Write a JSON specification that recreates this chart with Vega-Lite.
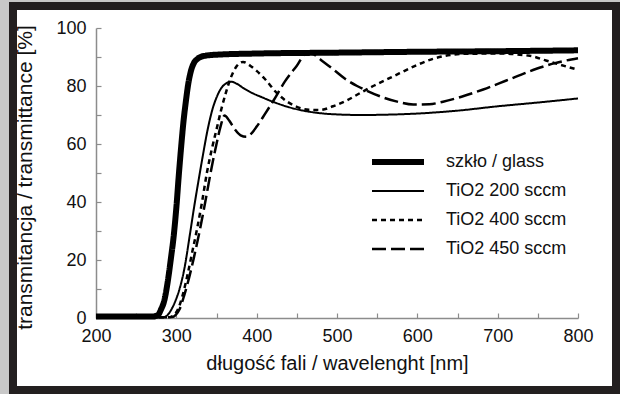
{
  "$schema": "https://vega.github.io/schema/vega-lite/v6.json",
  "width": 603,
  "height": 384,
  "autosize": "none",
  "padding": {"left": 13, "top": 6, "right": 4, "bottom": 4},
  "background": "#c8c8c8",
  "config": {
    "view": {"fill": "white", "stroke": "#231f20", "strokeWidth": 8},
    "font": "Liberation Sans"
  },
  "data": {
    "values": [
      {"series": "szkło / glass", "wl": 200, "t": 0.5}, {"series": "szkło / glass", "wl": 270, "t": 0.5}, {"series": "szkło / glass", "wl": 277, "t": 1}, {"series": "szkło / glass", "wl": 281, "t": 3}, {"series": "szkło / glass", "wl": 285, "t": 6}, {"series": "szkło / glass", "wl": 289, "t": 12}, {"series": "szkło / glass", "wl": 293, "t": 20}, {"series": "szkło / glass", "wl": 297, "t": 29}, {"series": "szkło / glass", "wl": 300, "t": 38}, {"series": "szkło / glass", "wl": 303, "t": 49}, {"series": "szkło / glass", "wl": 306, "t": 59}, {"series": "szkło / glass", "wl": 309, "t": 68}, {"series": "szkło / glass", "wl": 312, "t": 75}, {"series": "szkło / glass", "wl": 315, "t": 81}, {"series": "szkło / glass", "wl": 318, "t": 85}, {"series": "szkło / glass", "wl": 322, "t": 88}, {"series": "szkło / glass", "wl": 327, "t": 89.5}, {"series": "szkło / glass", "wl": 335, "t": 90.4}, {"series": "szkło / glass", "wl": 350, "t": 90.8}, {"series": "szkło / glass", "wl": 400, "t": 91.2}, {"series": "szkło / glass", "wl": 500, "t": 91.5}, {"series": "szkło / glass", "wl": 600, "t": 91.8}, {"series": "szkło / glass", "wl": 700, "t": 92}, {"series": "szkło / glass", "wl": 800, "t": 92.3},
      {"series": "TiO2 200 sccm", "wl": 200, "t": 0.3}, {"series": "TiO2 200 sccm", "wl": 284, "t": 0.3}, {"series": "TiO2 200 sccm", "wl": 289, "t": 1}, {"series": "TiO2 200 sccm", "wl": 294, "t": 3}, {"series": "TiO2 200 sccm", "wl": 299, "t": 6}, {"series": "TiO2 200 sccm", "wl": 304, "t": 10}, {"series": "TiO2 200 sccm", "wl": 310, "t": 17}, {"series": "TiO2 200 sccm", "wl": 317, "t": 29}, {"series": "TiO2 200 sccm", "wl": 322, "t": 38}, {"series": "TiO2 200 sccm", "wl": 328, "t": 48}, {"series": "TiO2 200 sccm", "wl": 333, "t": 56}, {"series": "TiO2 200 sccm", "wl": 339, "t": 65}, {"series": "TiO2 200 sccm", "wl": 345, "t": 72}, {"series": "TiO2 200 sccm", "wl": 350, "t": 76}, {"series": "TiO2 200 sccm", "wl": 356, "t": 79.3}, {"series": "TiO2 200 sccm", "wl": 362, "t": 80.9}, {"series": "TiO2 200 sccm", "wl": 368, "t": 81.5}, {"series": "TiO2 200 sccm", "wl": 375, "t": 80.8}, {"series": "TiO2 200 sccm", "wl": 385, "t": 79}, {"series": "TiO2 200 sccm", "wl": 395, "t": 77.5}, {"series": "TiO2 200 sccm", "wl": 405, "t": 76.3}, {"series": "TiO2 200 sccm", "wl": 420, "t": 74.6}, {"series": "TiO2 200 sccm", "wl": 440, "t": 72.7}, {"series": "TiO2 200 sccm", "wl": 460, "t": 71.4}, {"series": "TiO2 200 sccm", "wl": 480, "t": 70.6}, {"series": "TiO2 200 sccm", "wl": 500, "t": 70.2}, {"series": "TiO2 200 sccm", "wl": 530, "t": 70}, {"series": "TiO2 200 sccm", "wl": 560, "t": 70.1}, {"series": "TiO2 200 sccm", "wl": 600, "t": 70.5}, {"series": "TiO2 200 sccm", "wl": 650, "t": 71.5}, {"series": "TiO2 200 sccm", "wl": 700, "t": 73}, {"series": "TiO2 200 sccm", "wl": 750, "t": 74.3}, {"series": "TiO2 200 sccm", "wl": 800, "t": 75.7},
      {"series": "TiO2 400 sccm", "wl": 200, "t": 0.3}, {"series": "TiO2 400 sccm", "wl": 292, "t": 0.3}, {"series": "TiO2 400 sccm", "wl": 297, "t": 1}, {"series": "TiO2 400 sccm", "wl": 302, "t": 3}, {"series": "TiO2 400 sccm", "wl": 308, "t": 8}, {"series": "TiO2 400 sccm", "wl": 314, "t": 15}, {"series": "TiO2 400 sccm", "wl": 320, "t": 23}, {"series": "TiO2 400 sccm", "wl": 326, "t": 31}, {"series": "TiO2 400 sccm", "wl": 332, "t": 40}, {"series": "TiO2 400 sccm", "wl": 338, "t": 50}, {"series": "TiO2 400 sccm", "wl": 344, "t": 58}, {"series": "TiO2 400 sccm", "wl": 350, "t": 65}, {"series": "TiO2 400 sccm", "wl": 356, "t": 72}, {"series": "TiO2 400 sccm", "wl": 362, "t": 78}, {"series": "TiO2 400 sccm", "wl": 368, "t": 83}, {"series": "TiO2 400 sccm", "wl": 375, "t": 86.8}, {"series": "TiO2 400 sccm", "wl": 383, "t": 88.3}, {"series": "TiO2 400 sccm", "wl": 392, "t": 87}, {"series": "TiO2 400 sccm", "wl": 400, "t": 85.2}, {"series": "TiO2 400 sccm", "wl": 410, "t": 82.5}, {"series": "TiO2 400 sccm", "wl": 425, "t": 77.6}, {"series": "TiO2 400 sccm", "wl": 437, "t": 74.8}, {"series": "TiO2 400 sccm", "wl": 450, "t": 72.8}, {"series": "TiO2 400 sccm", "wl": 465, "t": 71.8}, {"series": "TiO2 400 sccm", "wl": 478, "t": 71.7}, {"series": "TiO2 400 sccm", "wl": 495, "t": 73}, {"series": "TiO2 400 sccm", "wl": 512, "t": 75}, {"series": "TiO2 400 sccm", "wl": 529, "t": 77.6}, {"series": "TiO2 400 sccm", "wl": 545, "t": 80}, {"series": "TiO2 400 sccm", "wl": 560, "t": 82}, {"series": "TiO2 400 sccm", "wl": 578, "t": 84.4}, {"series": "TiO2 400 sccm", "wl": 600, "t": 87.3}, {"series": "TiO2 400 sccm", "wl": 620, "t": 89.4}, {"series": "TiO2 400 sccm", "wl": 641, "t": 90.7}, {"series": "TiO2 400 sccm", "wl": 660, "t": 91.1}, {"series": "TiO2 400 sccm", "wl": 700, "t": 91.2}, {"series": "TiO2 400 sccm", "wl": 740, "t": 90.4}, {"series": "TiO2 400 sccm", "wl": 760, "t": 88.8}, {"series": "TiO2 400 sccm", "wl": 778, "t": 87.3}, {"series": "TiO2 400 sccm", "wl": 800, "t": 85.6},
      {"series": "TiO2 450 sccm", "wl": 200, "t": 0.3}, {"series": "TiO2 450 sccm", "wl": 294, "t": 0.3}, {"series": "TiO2 450 sccm", "wl": 299, "t": 1}, {"series": "TiO2 450 sccm", "wl": 304, "t": 3}, {"series": "TiO2 450 sccm", "wl": 310, "t": 8}, {"series": "TiO2 450 sccm", "wl": 316, "t": 14}, {"series": "TiO2 450 sccm", "wl": 322, "t": 21}, {"series": "TiO2 450 sccm", "wl": 329, "t": 30}, {"series": "TiO2 450 sccm", "wl": 336, "t": 40}, {"series": "TiO2 450 sccm", "wl": 344, "t": 52}, {"series": "TiO2 450 sccm", "wl": 350, "t": 60}, {"series": "TiO2 450 sccm", "wl": 355, "t": 66}, {"series": "TiO2 450 sccm", "wl": 360, "t": 69.8}, {"series": "TiO2 450 sccm", "wl": 366, "t": 68}, {"series": "TiO2 450 sccm", "wl": 373, "t": 65}, {"series": "TiO2 450 sccm", "wl": 380, "t": 63}, {"series": "TiO2 450 sccm", "wl": 387, "t": 62.5}, {"series": "TiO2 450 sccm", "wl": 393, "t": 63.5}, {"series": "TiO2 450 sccm", "wl": 400, "t": 66}, {"series": "TiO2 450 sccm", "wl": 410, "t": 70.2}, {"series": "TiO2 450 sccm", "wl": 421, "t": 75}, {"series": "TiO2 450 sccm", "wl": 435, "t": 81.5}, {"series": "TiO2 450 sccm", "wl": 450, "t": 87}, {"series": "TiO2 450 sccm", "wl": 462, "t": 91.3}, {"series": "TiO2 450 sccm", "wl": 470, "t": 91}, {"series": "TiO2 450 sccm", "wl": 480, "t": 89}, {"series": "TiO2 450 sccm", "wl": 495, "t": 85.8}, {"series": "TiO2 450 sccm", "wl": 510, "t": 82.5}, {"series": "TiO2 450 sccm", "wl": 525, "t": 80}, {"series": "TiO2 450 sccm", "wl": 537, "t": 78.4}, {"series": "TiO2 450 sccm", "wl": 555, "t": 76.3}, {"series": "TiO2 450 sccm", "wl": 575, "t": 74.6}, {"series": "TiO2 450 sccm", "wl": 595, "t": 73.6}, {"series": "TiO2 450 sccm", "wl": 615, "t": 73.7}, {"series": "TiO2 450 sccm", "wl": 632, "t": 74.6}, {"series": "TiO2 450 sccm", "wl": 655, "t": 76.3}, {"series": "TiO2 450 sccm", "wl": 682, "t": 78.8}, {"series": "TiO2 450 sccm", "wl": 710, "t": 81.8}, {"series": "TiO2 450 sccm", "wl": 744, "t": 85.5}, {"series": "TiO2 450 sccm", "wl": 770, "t": 87.8}, {"series": "TiO2 450 sccm", "wl": 800, "t": 89.6}
    ]
  },
  "mark": {"type": "line", "color": "black", "interpolate": "monotone", "strokeCap": "butt"},
  "encoding": {
    "x": {
      "field": "wl", "type": "quantitative",
      "scale": {"domain": [200, 800], "range": [83, 565], "nice": false, "zero": false},
      "axis": {
        "orient": "bottom", "offset": -72,
        "values": [200, 250, 300, 350, 400, 450, 500, 550, 600, 650, 700, 750, 800],
        "labelExpr": "datum.value % 100 == 0 ? datum.label : ''",
        "grid": false,
        "domainColor": "#8c8c8c", "domainWidth": 1.5, "tickColor": "#8c8c8c", "tickWidth": 1.2,
        "tickSize": -5, "labelPadding": 14,
        "labelFontSize": 18, "labelColor": "#111", "labelFlush": false,
        "title": "długość fali / wavelenght [nm]",
        "titleFontSize": 20, "titleFontWeight": "normal", "titleColor": "#111",
        "titleBaseline": "middle", "titleY": 45
      }
    },
    "y": {
      "field": "t", "type": "quantitative",
      "scale": {"domain": [0, 100], "range": [312, 22], "nice": false, "zero": false},
      "axis": {
        "orient": "left", "offset": -83,
        "values": [0, 10, 20, 30, 40, 50, 60, 70, 80, 90, 100],
        "labelExpr": "datum.value % 20 == 0 ? datum.label : ''",
        "grid": false,
        "domainColor": "#8c8c8c", "domainWidth": 1.5, "tickColor": "#8c8c8c", "tickWidth": 1.2,
        "tickSize": -5, "labelPadding": 15,
        "labelFontSize": 18, "labelColor": "#111", "labelFlush": false,
        "title": "transmitancja / transmittance [%]",
        "titleFontSize": 21, "titleFontWeight": "normal", "titleColor": "#111",
        "titleAngle": -90, "titleBaseline": "middle", "titleAlign": "center",
        "titleX": -71, "titleY": 171
      }
    },
    "strokeDash": {
      "field": "series", "type": "nominal",
      "scale": {"domain": ["szkło / glass", "TiO2 200 sccm", "TiO2 400 sccm", "TiO2 450 sccm"], "range": [[1, 0], [1, 0], [5, 4], [14, 5]]},
      "legend": {
        "title": null, "orient": "none", "legendX": 356, "legendY": 147,
        "symbolType": "stroke", "symbolSize": 2704, "symbolStrokeColor": "black",
        "labelFontSize": 18, "labelColor": "#111", "labelOffset": 19,
        "clipHeight": 18, "rowPadding": 11
      }
    },
    "strokeWidth": {
      "field": "series", "type": "nominal",
      "scale": {"type": "ordinal", "domain": ["szkło / glass", "TiO2 200 sccm", "TiO2 400 sccm", "TiO2 450 sccm"], "range": [6, 2, 2.5, 2.5]},
      "legend": {
        "title": null, "orient": "none", "legendX": 356, "legendY": 147,
        "symbolType": "stroke", "symbolSize": 2704, "symbolStrokeColor": "black",
        "labelFontSize": 18, "labelColor": "#111", "labelOffset": 19,
        "clipHeight": 18, "rowPadding": 11
      }
    }
  }
}
